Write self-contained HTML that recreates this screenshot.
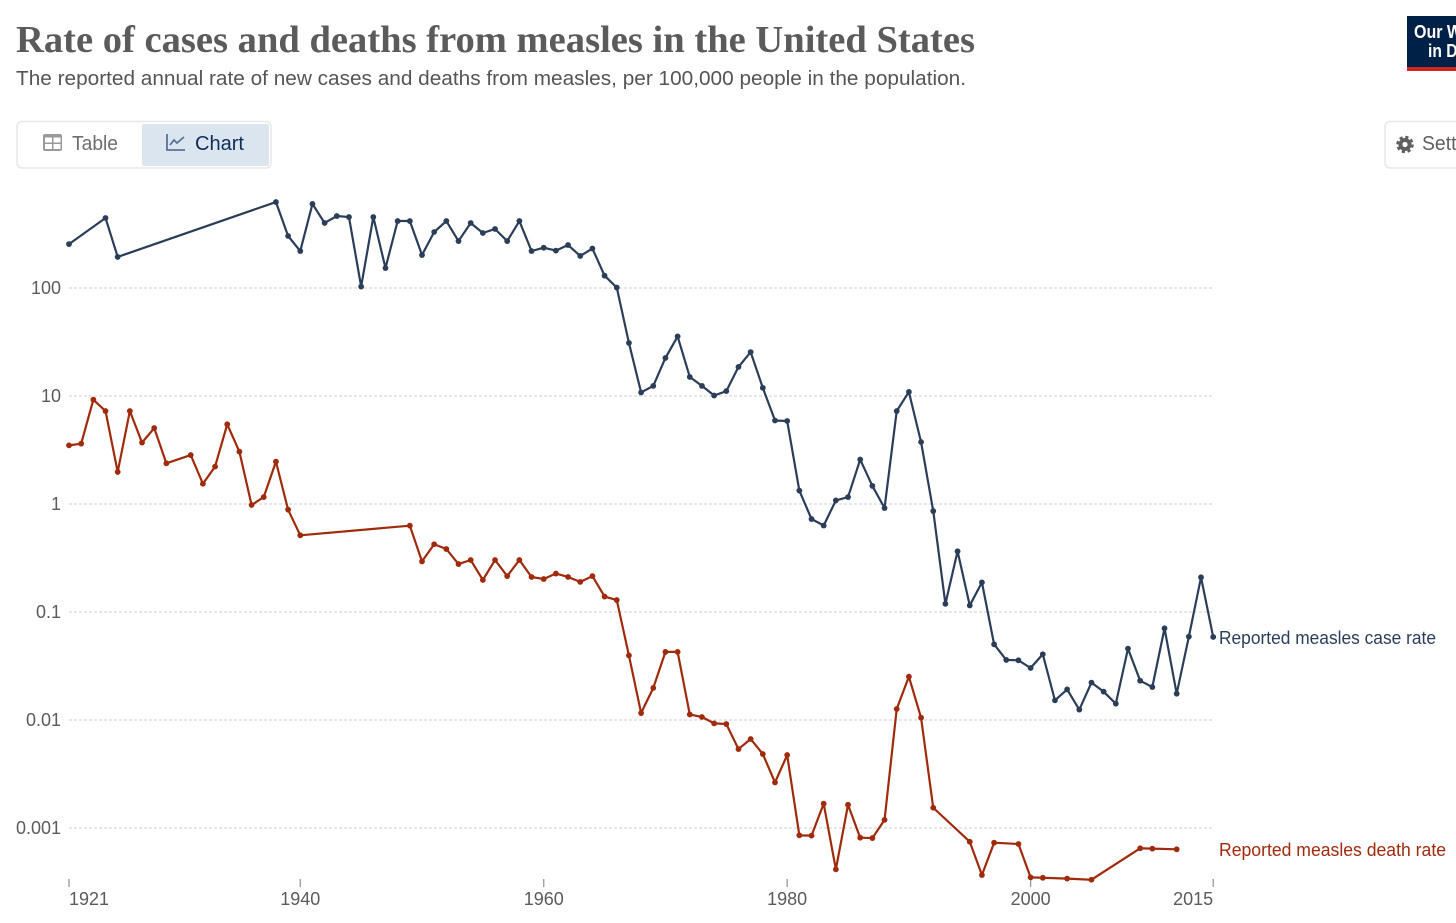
<!DOCTYPE html>
<html lang="en">
<head>
<meta charset="utf-8">
<title>Rate of cases and deaths from measles in the United States</title>
<style>
  html, body { margin: 0; padding: 0; width: 1456px; height: 923px; overflow: hidden; background: #fff; }
  svg { display: block; font-family: "Liberation Sans", sans-serif; }
</style>
</head>
<body>
<svg id="chart" width="1456" height="923" viewBox="0 0 1456 923" xmlns="http://www.w3.org/2000/svg">
  <text x="16" y="52" font-family="'Liberation Serif', serif" font-weight="700" font-size="38" fill="#5b5b5b" textLength="959" lengthAdjust="spacingAndGlyphs">Rate of cases and deaths from measles in the United States</text>
  <text x="16" y="85" font-size="20" fill="#555555" textLength="950" lengthAdjust="spacingAndGlyphs">The reported annual rate of new cases and deaths from measles, per 100,000 people in the population.</text>

  <g>
    <rect x="1407" y="16" width="60" height="55" fill="#002147"/>
    <rect x="1407" y="67" width="60" height="4" fill="#ce261e"/>
    <text x="1414" y="38" font-size="18" font-weight="700" fill="#ffffff" textLength="78" lengthAdjust="spacingAndGlyphs">Our World</text>
    <text x="1428" y="57" font-size="18" font-weight="700" fill="#ffffff" textLength="52" lengthAdjust="spacingAndGlyphs">in Data</text>
  </g>

  <g>
    <rect x="17" y="121.5" width="254" height="46.5" rx="5" fill="#ffffff" stroke="#e7e7e7" stroke-width="1.5"/>
    <g>
      <rect x="43" y="134" width="19" height="17" rx="2" fill="#9a9a9a"/>
      <rect x="45" y="137.5" width="7" height="5" fill="#ffffff"/>
      <rect x="53.5" y="137.5" width="7" height="5" fill="#ffffff"/>
      <rect x="45" y="144" width="7" height="5" fill="#ffffff"/>
      <rect x="53.5" y="144" width="7" height="5" fill="#ffffff"/>
      <text x="72" y="150" font-size="20" fill="#6e6e6e" textLength="46" lengthAdjust="spacingAndGlyphs">Table</text>
    </g>
    <g>
      <rect x="142" y="124" width="127" height="42" rx="2" fill="#dbe5f0"/>
      <path d="M167 134V150H185" fill="none" stroke="#5a7396" stroke-width="1.8"/>
      <path d="M170 145L174 140L177 143L184 137" fill="none" stroke="#5a7396" stroke-width="1.8"/>
      <text x="195" y="150" font-size="20" fill="#0f2d56" textLength="49" lengthAdjust="spacingAndGlyphs">Chart</text>
    </g>
  </g>

  <g>
    <rect x="1385" y="121.5" width="90" height="46.5" rx="5" fill="#ffffff" stroke="#e7e7e7" stroke-width="1.5"/>
    <circle cx="1405" cy="144.5" r="7.5" fill="none" stroke="#5f5f5f" stroke-width="2.5" stroke-dasharray="3.2 2.7"/>
    <circle cx="1405" cy="144.5" r="6.5" fill="#5f5f5f"/>
    <circle cx="1405" cy="144.5" r="2.6" fill="#ffffff"/>
    <text x="1422" y="150" font-size="20" fill="#5f5f5f" textLength="70" lengthAdjust="spacingAndGlyphs">Settings</text>
  </g>

  <g id="grid"></g>
  <g id="yticks"></g>
  <g id="xticks"></g>
  <g id="series-cases"></g>
  <g id="series-deaths"></g>

  <text x="1219" y="644" font-size="18" fill="#2b3e59" textLength="217" lengthAdjust="spacingAndGlyphs">Reported measles case rate</text>
  <text x="1219" y="856" font-size="18" fill="#a02a0c" textLength="227" lengthAdjust="spacingAndGlyphs">Reported measles death rate</text>
</svg>

<script>
const yTickValues = [100, 10, 1, 0.1, 0.01, 0.001];
const yTickLabels = ["100", "10", "1", "0.1", "0.01", "0.001"];
const xTickYears = [1921, 1940, 1960, 1980, 2000, 2015];

const caseYears = [1921, 1924, 1925, 1938, 1939, 1940, 1941, 1942, 1943, 1944, 1945, 1946, 1947, 1948, 1949, 1950, 1951, 1952, 1953, 1954, 1955, 1956, 1957, 1958, 1959, 1960, 1961, 1962, 1963, 1964, 1965, 1966, 1967, 1968, 1969, 1970, 1971, 1972, 1973, 1974, 1975, 1976, 1977, 1978, 1979, 1980, 1981, 1982, 1983, 1984, 1985, 1986, 1987, 1988, 1989, 1990, 1991, 1992, 1993, 1994, 1995, 1996, 1997, 1998, 1999, 2000, 2001, 2002, 2003, 2004, 2005, 2006, 2007, 2008, 2009, 2010, 2011, 2012, 2013, 2014, 2015];
const caseValues = [255, 445, 194, 625, 303, 220, 600, 400, 464, 454, 103, 454, 153, 417, 417, 202, 330, 417, 272, 400, 323, 352, 272, 417, 220, 236, 222, 250, 198, 232, 130, 101, 31, 10.8, 12.4, 22.5, 35.6, 15, 12.4, 10.1, 11.1, 18.6, 25.5, 11.9, 5.93, 5.87, 1.33, 0.726, 0.632, 1.08, 1.16, 2.58, 1.47, 0.918, 7.26, 10.9, 3.75, 0.861, 0.119, 0.365, 0.115, 0.188, 0.0502, 0.036, 0.0357, 0.0303, 0.0406, 0.0152, 0.0192, 0.01247, 0.0222, 0.0183, 0.01416, 0.0458, 0.0231, 0.0202, 0.0706, 0.01753, 0.0591, 0.2094, 0.0587];

const deathYears = [1921, 1922, 1923, 1924, 1925, 1926, 1927, 1928, 1929, 1931, 1932, 1933, 1934, 1935, 1936, 1937, 1938, 1939, 1940, 1949, 1950, 1951, 1952, 1953, 1954, 1955, 1956, 1957, 1958, 1959, 1960, 1961, 1962, 1963, 1964, 1965, 1966, 1967, 1968, 1969, 1970, 1971, 1972, 1973, 1974, 1975, 1976, 1977, 1978, 1979, 1980, 1981, 1982, 1983, 1984, 1985, 1986, 1987, 1988, 1989, 1990, 1991, 1992, 1995, 1996, 1997, 1999, 2000, 2001, 2003, 2005, 2009, 2010, 2012];
const deathValues = [3.49, 3.62, 9.24, 7.26, 1.98, 7.26, 3.7, 5.05, 2.38, 2.84, 1.54, 2.22, 5.47, 3.05, 0.979, 1.16, 2.47, 0.886, 0.513, 0.63, 0.294, 0.424, 0.383, 0.278, 0.303, 0.198, 0.303, 0.215, 0.303, 0.211, 0.202, 0.227, 0.211, 0.19, 0.215, 0.139, 0.129, 0.0396, 0.0116, 0.0198, 0.0427, 0.0427, 0.01125, 0.01066, 0.0093, 0.00918, 0.00538, 0.00667, 0.00484, 0.00264, 0.00474, 0.000855, 0.00085, 0.00168, 0.000414, 0.00164, 0.000813, 0.000807, 0.00119, 0.01265, 0.0252, 0.0105, 0.00154, 0.000746, 0.000367, 0.000731, 0.000711, 0.000349, 0.000346, 0.00034, 0.000332, 0.000649, 0.000644, 0.000635];

const SVG_NS = "http://www.w3.org/2000/svg";

function xScale(year) {
  return 69 + (year - 1921) * (1213.2 - 69) / (2015 - 1921);
}
function yScale(value) {
  return 504 - Math.log10(value) * 108;
}
function svgEl(tag, attrs) {
  const el = document.createElementNS(SVG_NS, tag);
  for (const k in attrs) el.setAttribute(k, attrs[k]);
  return el;
}

const gridGroup = document.getElementById("grid");
const yGroup = document.getElementById("yticks");
yTickValues.forEach(function (v, i) {
  const line = svgEl("line", { x1: 69, x2: 1213.5, y1: yScale(v), y2: yScale(v), stroke: "#cfcfcf", "stroke-width": 1, "stroke-dasharray": "3 2" });
  
  
  gridGroup.appendChild(line);

  const label = svgEl("text", { x: 61, y: yScale(v) + 6, "text-anchor": "end", "font-size": 18, fill: "#5b5b5b" });
  
  
  label.textContent = yTickLabels[i];
  yGroup.appendChild(label);
});

const xGroup = document.getElementById("xticks");
xTickYears.forEach(function (yr, i) {
  const tick = svgEl("line", { x1: xScale(yr), x2: xScale(yr), y1: 879, y2: 887, stroke: "#999999", "stroke-width": 1.3 });
  
  
  xGroup.appendChild(tick);

  const anchor = i === 0 ? "start" : (i === xTickYears.length - 1 ? "end" : "middle");
  const label = svgEl("text", { x: xScale(yr), y: 905, "text-anchor": anchor, "font-size": 18, fill: "#5b5b5b" });
  
  
  label.textContent = String(yr);
  xGroup.appendChild(label);
});

function drawSeries(groupId, years, values, color) {
  const group = document.getElementById(groupId);
  const pts = years.map(function (yr, i) { return xScale(yr).toFixed(2) + "," + yScale(values[i]).toFixed(2); }).join(" ");
  const line = svgEl("polyline", { points: pts, fill: "none", stroke: color, "stroke-width": 2.2, "stroke-linejoin": "round" });
  
  
  group.appendChild(line);
  years.forEach(function (yr, i) {
    const dot = svgEl("circle", { cx: xScale(yr), cy: yScale(values[i]), r: 2.9, fill: color });
    
    
    group.appendChild(dot);
  });
}

drawSeries("series-cases", caseYears, caseValues, "#2b3e59");
drawSeries("series-deaths", deathYears, deathValues, "#a02a0c");
</script>
</body>
</html>
